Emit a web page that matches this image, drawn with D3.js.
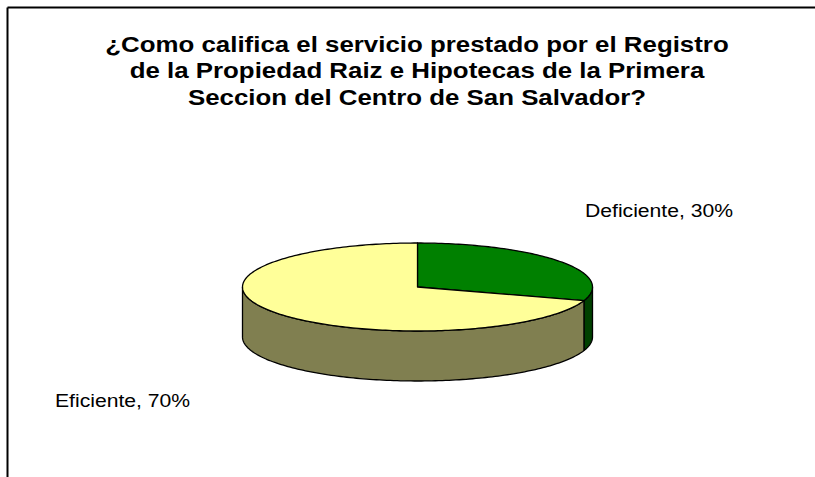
<!DOCTYPE html>
<html>
<head>
<meta charset="utf-8">
<script src="https://cdn.jsdelivr.net/npm/d3@7"></script>
<style>
  body { margin: 0; background: #fff; }
  text { font-family: "Liberation Sans", Arial, sans-serif; }
</style>
</head>
<body>
<div class="canvas"></div>
<script>
// data
const categories = ['Deficiente', 'Eficiente'];
const values = [30, 70];
const titleLines = [
  '¿Como califica el servicio prestado por el Registro',
  'de la Propiedad Raiz e Hipotecas de la Primera',
  'Seccion del Centro de San Salvador?'
];
const topColors = ['#008000', '#ffff99'];
const sideColors = ['#004000', '#807f50'];

const width = 815, height = 477;
const stretch = 1.175; // text in the picture is stretched sideways

const svg = d3.select('.canvas')
  .append('svg')
    .attr('width', width)
    .attr('height', height);

// frame (top and left edges only are visible)
svg.append('line')
  .attr('x1', 7.5).attr('y1', 7.5).attr('x2', width).attr('y2', 7.5)
  .attr('stroke', '#000').attr('stroke-width', 2);
svg.append('line')
  .attr('x1', 7.5).attr('y1', 7.5).attr('x2', 7.5).attr('y2', height)
  .attr('stroke', '#000').attr('stroke-width', 2);

// title
const cxTitle = 417;
svg.append('g')
  .attr('transform', `translate(${cxTitle},0) scale(${stretch},1)`)
  .selectAll('text')
  .data(titleLines)
  .enter()
  .append('text')
    .attr('x', 0)
    .attr('y', (d, i) => 52 + i * 26.5)
    .attr('text-anchor', 'middle')
    .attr('font-size', 22)
    .attr('font-weight', 'bold')
    .attr('fill', '#000')
    .text(d => d);

// 3d pie geometry
const cx = 417.5, cy = 287, rx = 175, ry = 44, depth = 50;
const x = d3.scaleLinear().domain([-1, 1]).range([cx - rx, cx + rx]);
const y = d3.scaleLinear().domain([-1, 1]).range([cy - ry, cy + ry]);

const pie = d3.pie().sort(null).value(d => d);
const arcs = pie(values);

const pt = (a, dz = 0) => [x(Math.sin(a)), y(-Math.cos(a)) + dz];
const samples = (a0, a1) => {
  const n = Math.max(2, Math.ceil((a1 - a0) / 0.02));
  return d3.range(n + 1).map(i => a0 + (a1 - a0) * i / n);
};

const line = d3.line();
const graph = svg.append('g');

// outer walls (front half only)
arcs.forEach((d, i) => {
  const a0 = Math.max(d.startAngle, Math.PI / 2);
  const a1 = Math.min(d.endAngle, Math.PI * 1.5);
  if (a1 <= a0) return;
  const angs = samples(a0, a1);
  const pts = angs.map(a => pt(a)).concat(angs.slice().reverse().map(a => pt(a, depth)));
  graph.append('path')
    .attr('d', line(pts) + 'Z')
    .attr('fill', sideColors[i])
    .attr('stroke', '#000')
    .attr('stroke-width', 1.3)
    .attr('stroke-linejoin', 'round');
});

// top faces
arcs.forEach((d, i) => {
  const pts = [[cx, cy]].concat(samples(d.startAngle, d.endAngle).map(a => pt(a)));
  graph.append('path')
    .attr('d', line(pts) + 'Z')
    .attr('fill', topColors[i])
    .attr('stroke', '#000')
    .attr('stroke-width', 1.3)
    .attr('stroke-linejoin', 'round');
});

// labels
const labelPos = [[585, 217], [55, 407]];
svg.selectAll('.lbl')
  .data(categories)
  .enter()
  .append('text')
    .attr('class', 'lbl')
    .attr('transform', (d, i) => `translate(${labelPos[i][0]},${labelPos[i][1]}) scale(${stretch},1)`)
    .attr('font-size', 18)
    .attr('fill', '#000')
    .text((d, i) => `${d}, ${values[i]}%`);
</script>
</body>
</html>
